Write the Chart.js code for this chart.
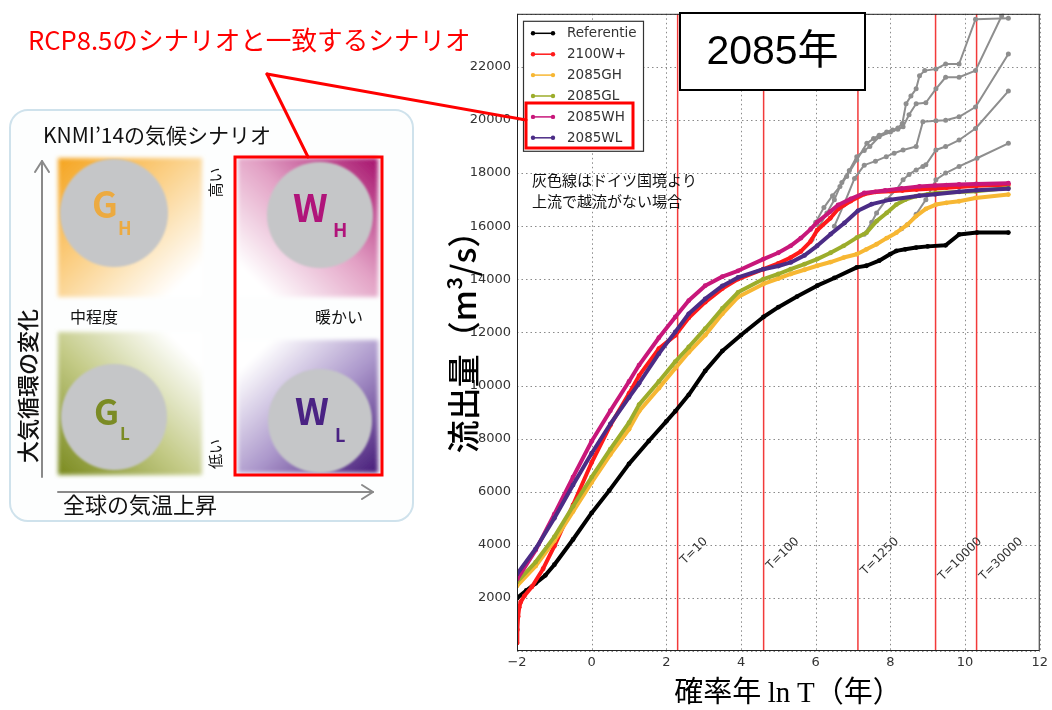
<!DOCTYPE html>
<html>
<head>
<meta charset="utf-8">
<script src="https://cdn.jsdelivr.net/npm/chart.js@4.4.1/dist/chart.umd.min.js"></script>
<style>
  html, body { margin: 0; padding: 0; background: #fff; width: 1052px; height: 710px; overflow: hidden; }
  #wrap { position: relative; width: 1052px; height: 710px; }
  #chart { position: absolute; left: 0; top: 0; }
  #overlay { position: absolute; left: 0; top: 0; pointer-events: none; }
  text { font-family: "Noto Sans CJK JP", "Noto Sans", sans-serif; }
</style>
</head>
<body>
<div id="wrap">
<canvas id="chart" width="1052" height="710"></canvas>
<svg id="overlay" width="1052" height="710" xmlns="http://www.w3.org/2000/svg">
  <defs>
    <linearGradient id="gGH" x1="0" y1="0" x2="1" y2="1">
      <stop offset="0" stop-color="#f5a41f"/>
      <stop offset="0.45" stop-color="#fbd28c"/>
      <stop offset="0.88" stop-color="#ffffff"/>
    </linearGradient>
    <linearGradient id="gGL" x1="0" y1="1" x2="1" y2="0">
      <stop offset="0" stop-color="#7a8a1e"/>
      <stop offset="0.45" stop-color="#c3ca86"/>
      <stop offset="0.88" stop-color="#ffffff"/>
    </linearGradient>
    <linearGradient id="gWH" x1="1" y1="0" x2="0" y2="1">
      <stop offset="0" stop-color="#a6116c"/>
      <stop offset="0.45" stop-color="#e2a0c4"/>
      <stop offset="0.88" stop-color="#ffffff"/>
    </linearGradient>
    <linearGradient id="gWL" x1="1" y1="1" x2="0" y2="0">
      <stop offset="0" stop-color="#451a78"/>
      <stop offset="0.45" stop-color="#ab97cb"/>
      <stop offset="0.88" stop-color="#ffffff"/>
    </linearGradient>
    <filter id="soft" x="-5%" y="-5%" width="110%" height="110%"><feGaussianBlur stdDeviation="2"/></filter>
    <filter id="softc" x="-5%" y="-5%" width="110%" height="110%"><feGaussianBlur stdDeviation="0.8"/></filter>
  </defs>

  <!-- KNMI'14 scenario panel -->
  <rect x="10" y="110" width="403" height="411" rx="18" ry="18" fill="#fdfefe" stroke="#cfe2ec" stroke-width="2"/>
  <text x="43" y="143" font-size="21" fill="#111">KNMI’14の気候シナリオ</text>

  <rect x="58" y="158" width="144" height="139" fill="url(#gGH)" filter="url(#soft)"/>
  <rect x="58" y="332" width="144" height="143" fill="url(#gGL)" filter="url(#soft)"/>
  <rect x="238" y="158" width="140" height="139" fill="url(#gWH)" filter="url(#soft)"/>
  <rect x="238" y="340" width="140" height="133" fill="url(#gWL)" filter="url(#soft)"/>

  <circle cx="114" cy="213" r="54" fill="#c5c6c8" filter="url(#softc)"/>
  <circle cx="114" cy="417" r="53" fill="#c5c6c8" filter="url(#softc)"/>
  <circle cx="320" cy="215" r="53" fill="#c5c6c8" filter="url(#softc)"/>
  <circle cx="320" cy="421" r="52" fill="#c5c6c8" filter="url(#softc)"/>

  <text x="92" y="218" font-family="Liberation Sans" font-weight="bold" font-size="36" fill="#f3a62a" opacity="0.85">G</text>
  <text x="118" y="235" font-family="Liberation Sans" font-weight="bold" font-size="18" fill="#f3a62a" opacity="0.85">H</text>
  <text x="94" y="425" font-family="Liberation Sans" font-weight="bold" font-size="35" fill="#7b8b25">G</text>
  <text x="120" y="440" font-family="Liberation Sans" font-weight="bold" font-size="17" fill="#7b8b25">L</text>
  <text x="293" y="222" font-family="Liberation Sans" font-weight="bold" font-size="38" fill="#b0147a">W</text>
  <text x="333" y="237" font-family="Liberation Sans" font-weight="bold" font-size="19" fill="#b0147a">H</text>
  <text x="295" y="425" font-family="Liberation Sans" font-weight="bold" font-size="37" fill="#4a2283">W</text>
  <text x="335" y="442" font-family="Liberation Sans" font-weight="bold" font-size="18" fill="#4a2283">L</text>

  <text x="70" y="316" font-size="16" dominant-baseline="central" fill="#111">中程度</text>
  <text x="315" y="316" font-size="16" dominant-baseline="central" fill="#111">暖かい</text>
  <text transform="translate(214.5,182.5) rotate(-90)" text-anchor="middle" dominant-baseline="central" font-size="15" fill="#111">高い</text>
  <text transform="translate(214.5,454) rotate(-90)" text-anchor="middle" dominant-baseline="central" font-size="15" fill="#111">低い</text>

  <g stroke="#8a8a8a" stroke-width="2" fill="none" stroke-linecap="round" stroke-linejoin="round">
    <line x1="42" y1="477" x2="42" y2="161"/>
    <polyline points="35,172 42,161 49,172"/>
    <line x1="58" y1="492" x2="373" y2="492"/>
    <polyline points="362,485 373,492 362,499"/>
  </g>
  <text transform="translate(26,386) rotate(-90)" text-anchor="middle" dominant-baseline="central" font-size="22" font-weight="500" fill="#111">大気循環の変化</text>
  <text x="63" y="513" font-size="22" fill="#111">全球の気温上昇</text>

  <rect x="235" y="157" width="147" height="318" fill="none" stroke="#ff0000" stroke-width="3"/>

  <!-- RCP8.5 callout -->
  <text x="28" y="50" font-size="25.6" fill="#ff0000">RCP8.5のシナリオと一致するシナリオ</text>
  <g stroke="#ff0000" stroke-width="3" fill="none" stroke-linecap="round">
    <line x1="267" y1="74" x2="308" y2="157"/>
    <line x1="267" y1="74" x2="526" y2="120"/>
  </g>
  <rect x="526" y="103" width="107" height="45" fill="none" stroke="#ff0000" stroke-width="3"/>

  <!-- axis titles -->
  <text transform="translate(462,334) rotate(-90)" text-anchor="middle" dominant-baseline="central" font-size="33" font-weight="500" fill="#000">流出量（m³/s）</text>
  <text x="788" y="702" text-anchor="middle" font-size="29" fill="#000"><tspan>確率年 </tspan><tspan font-family="Liberation Serif">ln T</tspan><tspan>（年）</tspan></text>
</svg>
</div>

<script>
// Discharge (m3/s) against ln T for the 2085 climate scenarios
const seriesNames = ['Referentie', '2100W+', '2085GH', '2085GL', '2085WH', '2085WL'];
const seriesColors = ['#000000', '#ff1a1a', '#f7b733', '#9cad2b', '#c8177a', '#4b2c86'];

const refX = [-2, -1.75, -1.5, -1.24, -1, -0.5, 0, 0.47, 1, 1.53, 2, 2.24, 2.6, 3.04, 3.5, 4, 4.6, 5, 5.5, 6.04, 6.5, 7.1, 7.36, 7.7, 8, 8.16, 8.4, 8.69, 9, 9.48, 9.84, 10.32, 11.16];
const refY = [1990, 2280, 2550, 2850, 3250, 4200, 5200, 6040, 7050, 7910, 8650, 9030, 9650, 10550, 11300, 11900, 12580, 12950, 13350, 13760, 14050, 14450, 14510, 14700, 14950, 15070, 15130, 15195, 15240, 15280, 15690, 15760, 15760];

const w21X = [-2, -1.99, -1.97, -1.94, -1.9, -1.8, -1.6, -1.3, -1, -0.5, 0, 0.5, 1, 1.27, 1.8, 2.24, 2.6, 3.04, 3.5, 3.92, 4.6, 5, 5.33, 5.6, 5.86, 6.04, 6.39, 6.6, 6.94, 7.31, 7.6, 8, 8.32, 8.7, 9.2, 9.5, 9.84, 10.3, 11.16];
const w21Y = [300, 800, 1300, 1650, 1850, 2080, 2420, 3100, 3950, 5500, 7100, 8500, 9700, 10370, 11390, 11890, 12550, 13140, 13650, 14010, 14380, 14600, 14820, 15050, 15420, 15850, 16300, 16650, 16950, 17210, 17290, 17320, 17345, 17380, 17420, 17450, 17480, 17520, 17560];

const ghX = [-2, -1.5, -1, -0.5, 0, 0.5, 1, 1.27, 1.8, 2.24, 2.6, 3.04, 3.5, 3.92, 4.6, 5, 5.33, 5.7, 6.04, 6.4, 6.75, 7.1, 7.36, 7.63, 7.9, 8.16, 8.45, 8.69, 8.95, 9.22, 9.5, 9.84, 10.28, 11.16];
const ghY = [2450, 3200, 4150, 5250, 6350, 7400, 8350, 9030, 9900, 10650, 11250, 11895, 12700, 13330, 13825, 14030, 14200, 14360, 14510, 14650, 14820, 14945, 15130, 15320, 15550, 15755, 16050, 16380, 16650, 16815, 16880, 16940, 17065, 17190];

const glX = [-2, -1.5, -1, -0.5, 0, 0.5, 1, 1.27, 1.8, 2.24, 2.6, 3.04, 3.5, 3.92, 4.6, 5, 5.33, 5.7, 6.04, 6.4, 6.75, 7.1, 7.36, 7.63, 7.9, 8.16, 8.4, 8.69, 9, 9.22, 9.84, 10.28, 11.16];
const glY = [2600, 3350, 4300, 5450, 6550, 7600, 8600, 9280, 10150, 10900, 11450, 12140, 12900, 13510, 14010, 14200, 14380, 14570, 14760, 15000, 15260, 15570, 15755, 16190, 16500, 16815, 17000, 17130, 17200, 17250, 17290, 17315, 17440];

const whX = [-2, -1.5, -1, -0.5, 0, 0.5, 1, 1.27, 1.8, 2.24, 2.6, 3.04, 3.5, 3.92, 4.6, 5, 5.33, 5.6, 5.86, 6.04, 6.39, 6.6, 6.94, 7.3, 7.86, 8.3, 8.78, 9.2, 9.5, 9.84, 10.3, 11.16];
const whY = [2700, 3800, 5150, 6550, 7900, 9050, 10150, 10770, 11800, 12580, 13200, 13760, 14100, 14320, 14760, 15000, 15260, 15550, 15880, 16150, 16550, 16800, 17030, 17250, 17345, 17420, 17500, 17530, 17550, 17570, 17590, 17620];

const wlX = [-2, -1.5, -1, -0.5, 0, 0.5, 1, 1.27, 1.8, 2.24, 2.6, 3.04, 3.5, 3.92, 4.6, 5, 5.33, 5.7, 6.04, 6.4, 6.77, 7.13, 7.5, 8, 8.77, 9.2, 9.84, 10.3, 11.16];
const wlY = [2900, 3850, 5000, 6250, 7450, 8550, 9550, 10085, 11200, 12020, 12700, 13260, 13750, 14070, 14380, 14500, 14635, 14900, 15260, 15700, 16120, 16580, 16830, 17000, 17150, 17200, 17300, 17350, 17410];

// grey: runs without overflow upstream of the German border
const grayAX = [6.0, 6.22, 6.45, 6.65, 6.83, 7.1, 7.37, 7.55, 7.7, 7.9, 8.06, 8.2, 8.32, 8.42, 8.55, 8.69, 8.78, 8.92, 9.22, 9.48, 9.84, 10.28, 11.16];
const grayAY = [16150, 16700, 17150, 17500, 17875, 18495, 19120, 19300, 19430, 19550, 19620, 19700, 19870, 20615, 20900, 21175, 21670, 21860, 21920, 22110, 22110, 23795, 23830];
const grayBX = [5.9, 6.1, 6.3, 6.5, 6.7, 6.9, 7.1, 7.3, 7.45, 7.7, 8.0, 8.2, 8.34, 8.5, 8.69, 8.95, 9.22, 9.48, 9.84, 10.28, 10.98, 11.16];
const grayBY = [15500, 16000, 16500, 17000, 17650, 18100, 18620, 18850, 19000, 19370, 19550, 19650, 19745, 20200, 20615, 20650, 21175, 21610, 21610, 21860, 23915, 24400];
const grayCX = [6.5, 6.75, 7.04, 7.3, 7.6, 7.89, 8.1, 8.34, 8.69, 8.87, 9.22, 9.48, 9.84, 10.28, 11.16];
const grayCY = [16000, 16800, 17800, 18300, 18450, 18620, 18750, 18870, 19000, 19930, 19970, 19990, 20120, 20490, 22485];
const grayDX = [7.3, 7.5, 7.63, 7.89, 8.16, 8.34, 8.5, 8.69, 8.87, 8.95, 9.22, 9.48, 9.84, 10.28, 11.16];
const grayDY = [15700, 16150, 16500, 17000, 17375, 17750, 17950, 18120, 18250, 18310, 18870, 19000, 19245, 19680, 21090];
const grayEX = [8.3, 8.45, 8.69, 8.95, 9.22, 9.48, 9.84, 10.32, 11.16];
const grayEY = [15900, 16050, 16450, 17000, 17750, 18000, 18250, 18560, 19120];

// return periods marked by vertical lines (years)
const returnPeriods = [10, 100, 1250, 10000, 30000];
const periodLabels = ['T=10', 'T=100', 'T=1250', 'T=10000', 'T=30000'];

const xTicks = [-2, 0, 2, 4, 6, 8, 10, 12];
const yTicks = [2000, 4000, 6000, 8000, 10000, 12000, 14000, 16000, 18000, 20000, 22000];
const gridX = [-2, 0, 2, 4, 6, 8, 10, 12];
const gridY = [0, 2000, 4000, 6000, 8000, 10000, 12000, 14000, 16000, 18000, 20000, 22000, 24000];

const noteLines = ['灰色線はドイツ国境より', '上流で越流がない場合'];
const yearLabel = '2085年';

function pts(xs, ys) { return xs.map((x, i) => ({ x: x, y: ys[i] })); }

function curve(label, xs, ys, color, width, radius) {
  return {
    label: label, data: pts(xs, ys), borderColor: color, backgroundColor: color,
    borderWidth: width, pointRadius: radius, pointBorderWidth: 0,
    pointBackgroundColor: color, tension: 0, borderJoinStyle: 'round', borderCapStyle: 'round'
  };
}

const grayColor = '#8e8e8e';
const datasets = [
  curve('2085WL', wlX, wlY, seriesColors[5], 4, 2.4),
  curve('2085WH', whX, whY, seriesColors[4], 4, 2.4),
  curve('2085GL', glX, glY, seriesColors[3], 4, 2.4),
  curve('2085GH', ghX, ghY, seriesColors[2], 4, 2.4),
  curve('2100W+', w21X, w21Y, seriesColors[1], 4, 2.4),
  curve('Referentie', refX, refY, seriesColors[0], 4, 2.4),
  curve('grey A', grayAX, grayAY, grayColor, 2, 2.5),
  curve('grey B', grayBX, grayBY, grayColor, 2, 2.5),
  curve('grey C', grayCX, grayCY, grayColor, 2, 2.5),
  curve('grey D', grayDX, grayDY, grayColor, 2, 2.5),
  curve('grey E', grayEX, grayEY, grayColor, 2, 2.5)
];
returnPeriods.forEach((T, i) => {
  const lx = Math.log(T);
  datasets.push({
    label: periodLabels[i], data: [{ x: lx, y: 0 }, { x: lx, y: 24000 }],
    borderColor: '#f23a3a', borderWidth: 1.5, pointRadius: 0, tension: 0
  });
});

// dotted grid, drawn beneath the curves
const dottedGrid = {
  id: 'dottedGrid',
  beforeDatasetsDraw(chart) {
    const { ctx, chartArea: a, scales: { x, y } } = chart;
    ctx.save();
    ctx.strokeStyle = '#8a8a8a';
    ctx.lineWidth = 1;
    ctx.setLineDash([1.5, 3]);
    gridX.forEach(v => {
      const px = Math.round(x.getPixelForValue(v)) + 0.5;
      ctx.beginPath(); ctx.moveTo(px, a.top); ctx.lineTo(px, a.bottom); ctx.stroke();
    });
    gridY.forEach(v => {
      const py = Math.round(y.getPixelForValue(v)) + 0.5;
      ctx.beginPath(); ctx.moveTo(a.left, py); ctx.lineTo(a.right, py); ctx.stroke();
    });
    ctx.restore();
  }
};

const decor = {
  id: 'decor',
  afterDatasetsDraw(chart) {
    const { ctx, chartArea: a, scales: { x, y } } = chart;
    ctx.save();

    // T labels, rotated, top-aligned just right of each line
    ctx.font = '12px "DejaVu Sans"';
    ctx.fillStyle = '#333';
    ctx.textAlign = 'left';
    ctx.textBaseline = 'alphabetic';
    const top = y.getPixelForValue(4350);
    const h = 8.8, c = Math.SQRT1_2;
    returnPeriods.forEach((T, i) => {
      const txt = periodLabels[i];
      const w = ctx.measureText(txt).width;
      const left = x.getPixelForValue(Math.log(T)) + 1;
      ctx.save();
      ctx.translate(left + c * h, top + c * (w + h));
      ctx.rotate(-Math.PI / 4);
      ctx.fillText(txt, 0, 0);
      ctx.restore();
    });

    // plot frame
    ctx.strokeStyle = '#222';
    ctx.lineWidth = 1;
    ctx.strokeRect(a.left + 0.5, a.top + 0.5, a.right - a.left - 1, a.bottom - a.top - 1);

    // legend box
    const lx = a.left + 6, ly = a.top + 7, lw = 120, lh = 130;
    ctx.fillStyle = '#fff';
    ctx.fillRect(lx, ly, lw, lh);
    ctx.strokeStyle = '#333';
    ctx.lineWidth = 1.2;
    ctx.strokeRect(lx + 0.5, ly + 0.5, lw, lh);
    ctx.font = '13.5px "DejaVu Sans"';
    ctx.textBaseline = 'middle';
    seriesNames.forEach((name, i) => {
      const ry = ly + 12.5 + i * 20.9;
      const col = seriesColors[i];
      ctx.strokeStyle = col; ctx.fillStyle = col; ctx.lineWidth = 1.5;
      ctx.beginPath(); ctx.moveTo(lx + 10, ry); ctx.lineTo(lx + 30, ry); ctx.stroke();
      [lx + 10, lx + 30].forEach(px => { ctx.beginPath(); ctx.arc(px, ry, 2.2, 0, Math.PI * 2); ctx.fill(); });
      ctx.fillStyle = '#333';
      ctx.fillText(name, lx + 44, ry + 0.5);
    });

    // year box
    const bx = 680, by = 13, bw = 185, bh = 77;
    ctx.fillStyle = '#fff';
    ctx.fillRect(bx, by, bw, bh);
    ctx.strokeStyle = '#000';
    ctx.lineWidth = 2;
    ctx.strokeRect(bx, by, bw, bh);
    ctx.fillStyle = '#000';
    ctx.font = '41px "Liberation Sans", "Noto Sans CJK JP"';
    ctx.textAlign = 'center';
    ctx.textBaseline = 'middle';
    ctx.fillText(yearLabel, bx + bw / 2, by + bh / 2 + 1);

    // note about grey lines
    ctx.font = '15px "Noto Sans CJK JP"';
    ctx.textAlign = 'left';
    ctx.fillStyle = '#111';
    noteLines.forEach((t, i) => ctx.fillText(t, 532, 180 + i * 21));

    ctx.restore();
  }
};

new Chart(document.getElementById('chart'), {
  type: 'line',
  data: { datasets: datasets },
  options: {
    responsive: false,
    animation: false,
    devicePixelRatio: 1,
    layout: { padding: { left: 440, right: 7, top: 10, bottom: 0 } },
    plugins: { legend: { display: false }, tooltip: { enabled: false } },
    elements: { line: { fill: false } },
    scales: {
      x: {
        type: 'linear', min: -2, max: 12,
        afterBuildTicks: s => { s.ticks = xTicks.map(v => ({ value: v })); },
        afterFit: s => { s.height = 59; },
        ticks: {
          color: '#333', font: { family: 'DejaVu Sans', size: 13 }, padding: 4, maxRotation: 0,
          callback: v => (v < 0 ? '\u2212' + Math.abs(v) : String(v))
        },
        grid: { display: false, drawTicks: false },
        border: { display: false }
      },
      y: {
        type: 'linear', min: 0, max: 24000,
        afterBuildTicks: s => { s.ticks = yTicks.map(v => ({ value: v })); },
        afterFit: s => { s.width = 77; },
        ticks: {
          color: '#333', font: { family: 'DejaVu Sans', size: 13 }, padding: 6,
          callback: v => String(v)
        },
        grid: { display: false, drawTicks: false },
        border: { display: false }
      }
    }
  },
  plugins: [dottedGrid, decor]
});
</script>
</body>
</html>
